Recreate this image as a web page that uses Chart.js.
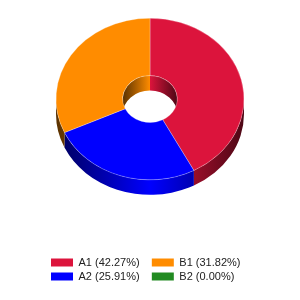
<!DOCTYPE html>
<html>
<head>
<meta charset="utf-8">
<script src="https://cdn.jsdelivr.net/npm/chart.js@4"></script>
<style>
  html, body { margin: 0; padding: 0; background: #fff; }
  #wrap { width: 300px; height: 300px; }
</style>
</head>
<body>
<div id="wrap"><canvas id="myChart"></canvas></div>
<script>
const names = ['A1', 'A2', 'B1', 'B2'];
const values = [42.27, 25.91, 31.82, 0];
const colors = ['#dc143c', '#0000ff', '#ff8c00', '#228b22'];
// legend reads A1 B1 / A2 B2
const legendOrder = [0, 2, 1, 3];
const firstColumn = [0, 1];

const total = values.reduce((a, b) => a + b, 0);
const labels = names.map((n, i) => n + ' (' + (values[i] / total * 100).toFixed(2) + '%)');

const tilt = 0.86;  // vertical squash of the top face
const depth = 15;   // thickness of the ring
const faceY = 99;   // where the centre of the top face lands

function shade(hex, f) {
  const n = parseInt(hex.slice(1), 16);
  const r = Math.round(((n >> 16) & 255) * f);
  const g = Math.round(((n >> 8) & 255) * f);
  const b = Math.round((n & 255) * f);
  return 'rgb(' + r + ',' + g + ',' + b + ')';
}

// one strip of side wall between angles lo..hi at radius r
function band(ctx, cx, r, lo, hi, color) {
  if (hi <= lo) return;
  const ry = r * tilt;
  const grad = ctx.createLinearGradient(cx - r, 0, cx + r, 0);
  grad.addColorStop(0, shade(color, 0.35));
  grad.addColorStop(0.5, color);
  grad.addColorStop(1, shade(color, 0.35));
  ctx.beginPath();
  ctx.ellipse(cx, faceY, r, ry, 0, lo, hi);
  ctx.ellipse(cx, faceY + depth, r, ry, 0, hi, lo, true);
  ctx.closePath();
  ctx.fillStyle = grad;
  ctx.fill();
}

const ring3d = {
  id: 'ring3d',
  beforeDatasetsDraw(chart) {
    const ctx = chart.ctx;
    const arcs = chart.getDatasetMeta(0).data;
    const PI = Math.PI;
    ctx.save();
    arcs.forEach((arc, i) => {
      const p = arc.getProps(['x', 'startAngle', 'endAngle', 'innerRadius', 'outerRadius']);
      // far side of the hole
      [-2 * PI, 0].forEach(k => {
        band(ctx, p.x, p.innerRadius, Math.max(p.startAngle, k + PI), Math.min(p.endAngle, k + 2 * PI), colors[i]);
      });
      // near side of the outer rim
      [-2 * PI, 0, 2 * PI].forEach(k => {
        band(ctx, p.x, p.outerRadius, Math.max(p.startAngle, k), Math.min(p.endAngle, k + PI), colors[i]);
      });
    });
    ctx.restore();

    // squash the top face
    const cy = arcs[0].y;
    ctx.save();
    ctx.translate(0, faceY);
    ctx.scale(1, tilt);
    ctx.translate(0, -cy);
  },
  afterDatasetsDraw(chart) {
    chart.ctx.restore();
  }
};

const ctx = document.getElementById('myChart').getContext('2d');

const myChart = new Chart(ctx, {
  type: 'doughnut',
  data: {
    labels: labels,
    datasets: [
      {
        data: values,
        backgroundColor: colors,
        borderColor: 'rgba(255,255,255,0.3)',
        borderWidth: values.map(v => (v > 0 ? 1 : 0)),
        clip: false,
      },
    ],
  },
  options: {
    responsive: true,
    maintainAspectRatio: false,
    animation: false,
    radius: 94,
    cutout: '29%',
    layout: {
      padding: { left: 48, right: 48, top: 8, bottom: 8 },
    },
    plugins: {
      tooltip: { enabled: false },
      legend: {
        position: 'bottom',
        align: 'start',
        labels: {
          boxWidth: 22,
          boxHeight: 8,
          padding: 3,
          color: '#222',
          font: { family: 'Liberation Sans', size: 11 },
          sort: (a, b) => legendOrder.indexOf(a.index) - legendOrder.indexOf(b.index),
          generateLabels(chart) {
            const items = Chart.overrides.doughnut.plugins.legend.labels.generateLabels(chart);
            // a little extra room after the first column
            return items.map(it => {
              if (firstColumn.includes(it.index)) it.text = it.text + '   ';
              it.lineWidth = 0;
              return it;
            });
          },
        },
      },
    },
  },
  plugins: [ring3d],
});
</script>
</body>
</html>
